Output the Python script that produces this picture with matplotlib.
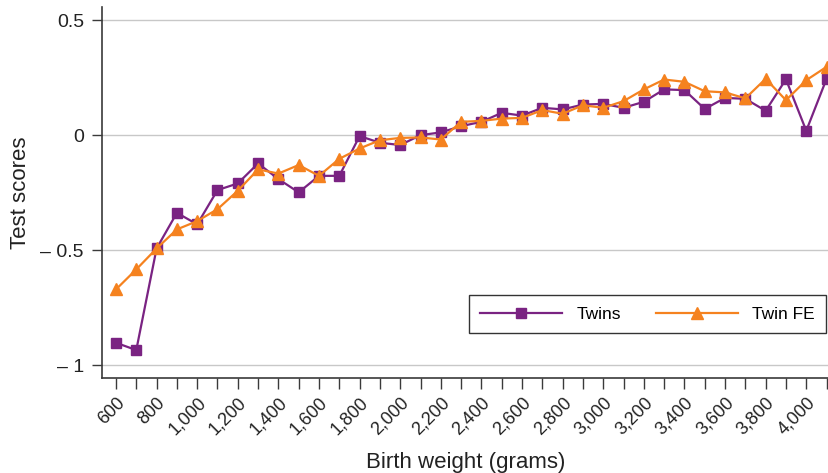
import numpy as np
from matplotlib import pyplot as plt
from matplotlib import ticker

plt.rcParams['font.family'] = ['Liberation Sans', 'DejaVu Sans']

# Birth weight bins (grams) and estimated test scores
weight = np.arange(600, 4200, 100)

twins = [-0.903, -0.935, -0.493, -0.338, -0.388, -0.239, -0.210, -0.123,
         -0.191, -0.249, -0.177, -0.177, -0.004, -0.033, -0.043, 0.000,
          0.012, 0.039, 0.058, 0.097, 0.085, 0.119, 0.112, 0.133,
          0.136, 0.119, 0.145, 0.199, 0.196, 0.114, 0.162, 0.158,
          0.106, 0.243, 0.019, 0.245]

twin_fe = [-0.671, -0.584, -0.493, -0.410, -0.374, -0.322, -0.242, -0.149,
           -0.167, -0.130, -0.177, -0.103, -0.058, -0.022, -0.012, -0.010,
           -0.019, 0.058, 0.062, 0.072, 0.075, 0.109, 0.093, 0.130,
            0.119, 0.148, 0.199, 0.242, 0.232, 0.191, 0.186, 0.160,
            0.245, 0.152, 0.239, 0.297]

yticks = [-1, -0.5, 0, 0.5]
ytick_labels = ['\u2013 1', '\u2013 0.5', '0', '0.5']

purple = '#7a2382'
orange = '#f5821f'
dark = '#3a3a3a'

fig = plt.figure(figsize=(8.29, 4.73), dpi=100)
ax = fig.add_axes([0.123, 0.2015, 0.877, 0.7835])

ax.plot(weight, twins, color=purple, lw=1.6, marker='s', ms=7.5,
        label='Twins', zorder=3)
ax.plot(weight, twin_fe, color=orange, lw=1.6, marker='^', ms=8,
        label='Twin FE', zorder=4)

ax.set_xlim(531, 4112)
ax.set_ylim(-1.055, 0.557)

ax.set_yticks(yticks)
ax.set_yticklabels(ytick_labels)
ax.yaxis.grid(True, color='#c8c8c8', lw=1.0, zorder=0)
ax.set_axisbelow(True)

ax.xaxis.set_minor_locator(ticker.MultipleLocator(100))
ax.set_xticks(np.arange(600, 4001, 200))
ax.xaxis.set_major_formatter(ticker.FuncFormatter(lambda v, p: f'{int(v):,}'))
plt.setp(ax.get_xticklabels(), rotation=45, ha='right', rotation_mode='anchor')

ax.tick_params(axis='both', which='both', direction='out', color=dark,
               width=1.0, labelcolor='#222222')
ax.tick_params(axis='x', which='both', length=8, labelsize=13, pad=4)
ax.tick_params(axis='y', length=7, labelsize=14, pad=6)

for side in ['top', 'right']:
    ax.spines[side].set_visible(False)
for side in ['left', 'bottom']:
    ax.spines[side].set_color(dark)
    ax.spines[side].set_linewidth(1.2)

ax.set_xlabel('Birth weight (grams)', fontsize=16, color='#222222', labelpad=10)
ax.set_ylabel('Test scores', fontsize=16, color='#222222', labelpad=7)

leg = ax.legend(loc='lower left', bbox_to_anchor=(0.505, 0.12), ncol=2,
                fontsize=12.5, frameon=True, fancybox=False, borderaxespad=0,
                handlelength=4.7, handletextpad=0.85, columnspacing=2.0,
                borderpad=0.65)
leg.get_frame().set_edgecolor('black')
leg.get_frame().set_linewidth(1.0)

plt.savefig('out.png', dpi=100)
